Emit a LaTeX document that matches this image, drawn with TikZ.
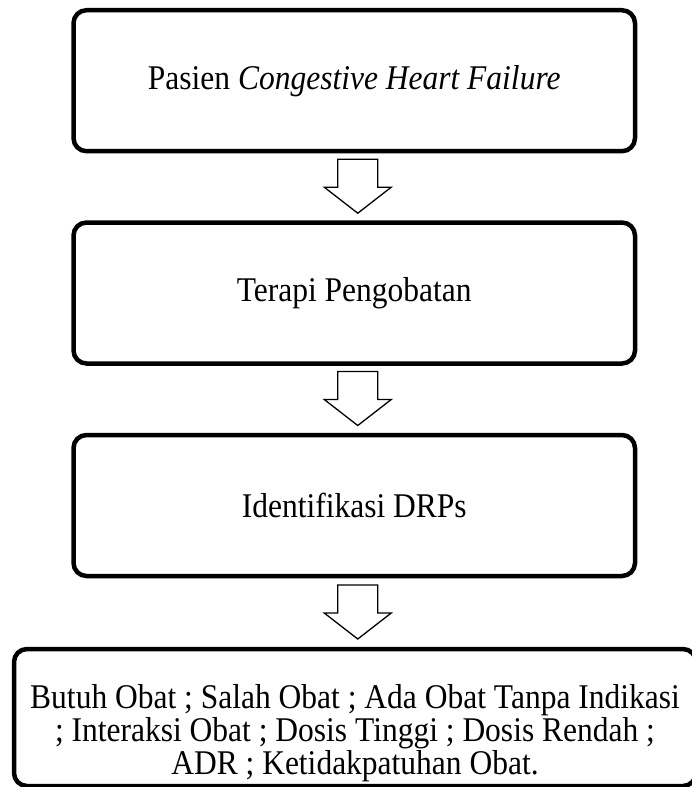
\documentclass[tikz,border=0pt]{standalone}
\usepackage{fontspec}
\setmainfont{Liberation Serif}
\newcommand{\tallline}[1]{\scalebox{1}[1.1]{#1}}
\begin{document}
\begin{tikzpicture}[x=1pt,y=-1pt]
\tikzset{
  box/.style={draw, line width=4.5pt, rounded corners=13pt, minimum width=561.5pt,
    minimum height=141pt, inner sep=0pt, outer sep=0pt,
    font=\fontsize{31.5}{35}\selectfont, align=center},
  bigbox/.style={box, minimum width=682pt, minimum height=137pt},
  boxtext/.style={font=\fontsize{31.5}{33}\selectfont, align=center, inner sep=0pt},
  blockarrow/.pic={\draw[line width=1.3pt, line join=miter]
    (-20,0) -- (20,0) -- (20,28) -- (33.5,28) -- (0,54) -- (-33.5,28) -- (-20,28) -- cycle;}
}
\clip (0,0) rectangle (692,787);
\useasboundingbox (0,0) rectangle (692,787);
\node[box] (b1) at (354.25,80.7) {\tallline{Pasien \textit{Congestive Heart Failure}}};
\node[box] (b2) at (354.25,293) {\tallline{Terapi Pengobatan}};
\node[box] (b3) at (354.25,505.5) {\tallline{Identifikasi DRPs}};
\node[bigbox] (b4) at (355,717.5) {};
\node[boxtext] (b4t) at ([yshift=-16pt]b4.center)
  {\tallline{Butuh Obat ; Salah Obat ; Ada Obat Tanpa Indikasi}\\
   \tallline{; Interaksi Obat ; Dosis Tinggi ; Dosis Rendah ;}\\
   \tallline{ADR ; Ketidakpatuhan Obat.}};
\pic at ([xshift=3.5pt,yshift=-8pt]b1.south) {blockarrow};
\pic at ([xshift=3.5pt,yshift=-8pt]b2.south) {blockarrow};
\pic at ([xshift=3.5pt,yshift=-9pt]b3.south) {blockarrow};
\end{tikzpicture}
\end{document}
